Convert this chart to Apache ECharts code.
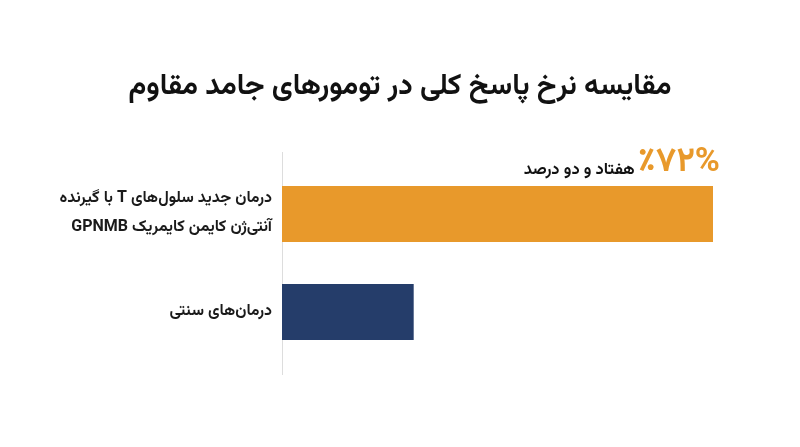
<!DOCTYPE html>
<html>
<head>
<meta charset="utf-8">
<script src="https://cdn.jsdelivr.net/npm/echarts@6/dist/echarts.min.js"></script>
<style>html,body{margin:0;padding:0;background:#fff;}#c{width:800px;height:447px;}</style>
</head>
<body>
<div id="c"></div>
<script>
const title = 'مقایسه نرخ پاسخ کلی در تومورهای جامد مقاوم';
const categories = ['درمان جدید سلول‌های T با گیرنده\nآنتی‌ژن کایمن کایمریک GPNMB', 'درمان‌های سنتی'];
const values = [72, 22];
const barColors = ['#E8992B', '#253D6A'];
const bigLabel = '٪۷۲%';
const smallLabel = 'هفتاد و دو درصد';

const RLE = '\u202B', PDF = '\u202C';
const rtl = s => s.split('\n').map(l => RLE + l + PDF).join('\n');

const FONT = 'Vazirmatn, "DejaVu Sans", "Noto Sans", sans-serif';
const chart = echarts.init(document.getElementById('c'));
chart.setOption({
  backgroundColor: '#fff',
  animation: false,
  title: {
    text: rtl(title), left: 'center', top: 70,
    textStyle: { fontFamily: FONT, fontSize: 29, fontWeight: 'bold', color: '#111' }
  },
  grid: { left: 282, right: 87, top: 165, height: 196 },
  xAxis: { type: 'value', min: 0, max: 72, show: false },
  yAxis: {
    type: 'category', data: categories, inverse: true,
    axisLine: { show: true, lineStyle: { color: '#dddddd', width: 1 } },
    axisTick: { show: false },
    axisLabel: {
      margin: 10, align: 'right', fontFamily: FONT, fontSize: 16, fontWeight: 'bold',
      color: '#1a1a1a', lineHeight: 29,
      formatter: v => rtl(v)
    }
  },
  graphic: [{
    type: 'line', shape: { x1: 282.5, y1: 152, x2: 282.5, y2: 375 },
    style: { stroke: '#dddddd', lineWidth: 1 }, z: -1
  }],
  series: [{
    type: 'bar', barWidth: 56,
    data: values.map((v, i) => ({
      value: v,
      itemStyle: { color: barColors[i] },
      label: i === 0 ? {
        show: true, position: ['100%', 0], align: 'right', verticalAlign: 'bottom',
        offset: [7, -3],
        formatter: '{s|' + rtl(smallLabel) + '} {b|' + bigLabel + '}',
        rich: {
          s: { fontFamily: FONT, fontSize: 16.5, fontWeight: 'bold', color: '#111', verticalAlign: 'bottom', padding: [0, 0, 3, 0] },
          b: { fontFamily: FONT, fontSize: 34, fontWeight: 'bold', color: '#E8992B', verticalAlign: 'bottom' }
        }
      } : { show: false }
    }))
  }]
});
</script>
</body>
</html>
